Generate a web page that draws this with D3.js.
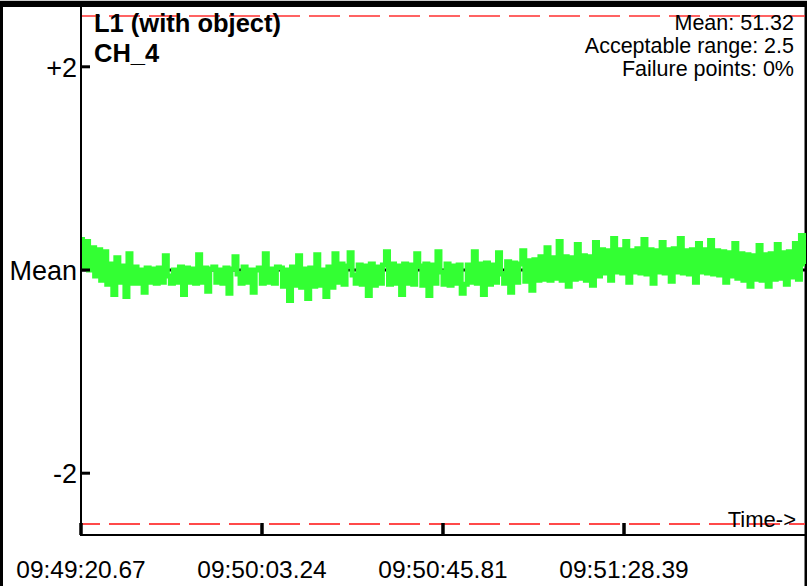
<!DOCTYPE html>
<html><head><meta charset="utf-8">
<script src="https://cdn.jsdelivr.net/npm/d3@7"></script>
<style>
html,body{margin:0;padding:0;background:#fff;}
svg{display:block;font-family:"Liberation Sans",Arial,sans-serif;}
</style></head>
<body>
<svg id="chart" width="807" height="586"></svg>
<script>
// ---- data ----
const title = "L1 (with object)";
const channel = "CH_4";
const meanValue = 51.32;
const acceptableRange = 2.5;
const failurePoints = "0%";
const startTime = "09:49:20.67";
const endTime = "09:52:10.96";
const xTickLabels = ["09:49:20.67", "09:50:03.24", "09:50:45.81", "09:51:28.39"];
const yTickValues = [2, 0, -2];
const yTickLabels = ["+2", "Mean", "-2"];
// deviation from mean
const deviations = [
  0.30, 0.02, 0.28, 0.00, 0.22, -0.06, 0.20, -0.10,
  0.18, -0.14, 0.06, -0.24, 0.12, -0.12, 0.04, -0.26, 0.16, -0.13,
  0.03, -0.13, 0.00, -0.22, 0.02, -0.12, 0.01, -0.13, 0.02, -0.12,
  0.14, -0.06, -0.13, 0.00, -0.12, 0.03, -0.24, 0.02, -0.12, 0.01,
  -0.13, 0.15, -0.12, 0.02, -0.21, 0.01, 0.03, -0.12, 0.00, -0.13,
  0.02, -0.23, 0.01, 0.13, -0.04, -0.13, 0.03, -0.12, 0.00, -0.22,
  0.00, 0.02, -0.13, 0.16, -0.12, 0.01, -0.13, 0.03,
  0.02, -0.16, 0.00, -0.30, 0.03, -0.15, 0.14, -0.17, 0.01, -0.28,
  0.02, -0.16, 0.15, -0.15, 0.00, -0.26, 0.03, -0.17, 0.16, -0.12,
  0.06, -0.14, 0.04, 0.17, -0.05, -0.13, 0.05, -0.14, 0.04, -0.25,
  0.06, -0.15, 0.03, -0.13, 0.05, 0.18, -0.14, 0.06, -0.13, 0.04,
  -0.24, 0.06, -0.13, 0.05, -0.14, 0.16, 0.04, -0.15, 0.06, -0.25,
  0.05, -0.13, 0.18, -0.02, -0.14, 0.06, -0.15, 0.04, -0.13, 0.05,
  -0.23, -0.14, 0.05, -0.12, 0.18, -0.13, 0.06, -0.24, 0.07, -0.14,
  0.05, -0.12, 0.17, -0.04, -0.13, 0.08, -0.22, 0.07, -0.12, 0.06,
  0.19, -0.11, 0.09, -0.20, 0.10, -0.10,
  0.13, -0.09, 0.22, -0.10, 0.12, -0.08, 0.28, -0.10, 0.13, -0.16,
  0.12, -0.09, 0.25, -0.08, 0.14, -0.10, 0.13, -0.15, 0.27, -0.06,
  0.20, -0.03, 0.19, -0.10, 0.31, -0.02, 0.20, -0.03, 0.28, -0.12,
  0.19, -0.02, 0.21, -0.03, 0.30, -0.04, 0.20, -0.13, 0.19, -0.02,
  0.27, -0.03, 0.20, -0.11, 0.21, -0.02, 0.31, -0.03, 0.19, -0.04,
  0.20, -0.12, 0.26, -0.02, 0.20, -0.03, 0.29, -0.04, 0.19,
  -0.05, 0.18, -0.12, 0.17, -0.06, 0.26, -0.08, 0.16, -0.10, 0.15,
  -0.16, 0.14, -0.09, 0.24, -0.10, 0.15, -0.16, 0.16, -0.09, 0.25,
  -0.08, 0.17, -0.14, 0.18, -0.07, 0.26, -0.09, 0.34, 0.06
];

// ---- helpers ----
function toSec(s){ const p = s.split(":"); return (+p[0])*3600 + (+p[1])*60 + (+p[2]); }

const svg = d3.select("#chart");
const W = 807, H = 586;
const plot = {left: 81, right: 805, top: 16, bottom: 524, axisY: 535};

const t0 = toSec(startTime), t1 = toSec(endTime);
const x = d3.scaleLinear().domain([t0, t1]).range([plot.left, plot.right]);
const y = d3.scaleLinear().domain([-acceptableRange, acceptableRange]).range([plot.bottom, plot.top]);
const sampleTimes = d3.range(deviations.length).map(i => t0 + (t1 - t0) * i / (deviations.length - 1));

// frame
svg.append("rect").attr("x",0).attr("y",0).attr("width",W).attr("height",2).attr("fill","#ccc");
svg.append("rect").attr("x",0).attr("y",1).attr("width",W).attr("height",6).attr("fill","#000");
svg.append("rect").attr("x",0).attr("y",1).attr("width",3).attr("height",H).attr("fill","#000");
svg.append("rect").attr("x",804.5).attr("y",1).attr("width",2.5).attr("height",H).attr("fill","#000");

// limit lines
[acceptableRange, -acceptableRange].forEach(v => {
  svg.append("line").attr("x1",plot.left).attr("x2",plot.right)
    .attr("y1",y(v)).attr("y2",y(v))
    .attr("stroke", v > 0 ? "#ff3030" : "#ff4a4a").attr("stroke-width", v > 0 ? 1.3 : 2)
    .attr("stroke-dasharray","31 9").attr("stroke-dashoffset", 12);
});

// mean line
svg.append("line").attr("x1",plot.left).attr("x2",plot.right)
  .attr("y1",y(0)).attr("y2",y(0)).attr("stroke","#000").attr("stroke-width",3);

// data line
const line = d3.line().x((d,i)=>x(sampleTimes[i])).y(d=>y(d)).curve(d3.curveStep);
svg.append("path").datum(deviations).attr("d",line)
  .attr("fill","none").attr("stroke","#33ff33").attr("stroke-width",5)
  .attr("stroke-linejoin","miter");

// axes lines
svg.append("line").attr("x1",plot.left).attr("x2",plot.left).attr("y1",7).attr("y2",plot.axisY+1)
  .attr("stroke","#000").attr("stroke-width",2);
svg.append("line").attr("x1",plot.left).attr("x2",plot.right).attr("y1",plot.axisY).attr("y2",plot.axisY)
  .attr("stroke","#000").attr("stroke-width",2);

// y ticks
yTickValues.forEach((v,i) => {
  svg.append("line").attr("x1",plot.left).attr("x2",plot.left+9).attr("y1",y(v)).attr("y2",y(v))
    .attr("stroke","#000").attr("stroke-width",3);
  svg.append("text").attr("x",plot.left-4).attr("y",y(v)).attr("dy","0.36em")
    .attr("text-anchor","end").attr("font-size",27).attr("fill","#000").text(yTickLabels[i]);
});

// x ticks
xTickLabels.forEach(lbl => {
  const xp = x(toSec(lbl));
  svg.append("line").attr("x1",xp).attr("x2",xp).attr("y1",plot.axisY-12).attr("y2",plot.axisY)
    .attr("stroke","#000").attr("stroke-width",3.5);
  svg.append("text").attr("x",xp).attr("y",578).attr("text-anchor","middle")
    .attr("font-size",24.5).attr("fill","#000").text(lbl);
});

// titles
svg.append("text").attr("x",94).attr("y",32).attr("font-size",25.5).attr("font-weight","bold").text(title);
svg.append("text").attr("x",94).attr("y",62).attr("font-size",25.5).attr("font-weight","bold").text(channel);

// stats
const stats = ["Mean: " + meanValue.toFixed(2), "Acceptable range: " + acceptableRange, "Failure points: " + failurePoints];
stats.forEach((s,i) => {
  svg.append("text").attr("x",794).attr("y",30 + i*23).attr("text-anchor","end")
    .attr("font-size",21.5).text(s);
});

// Time-> label
svg.append("text").attr("x",796).attr("y",527).attr("text-anchor","end").attr("font-size",22).text("Time->");
</script>
</body></html>
